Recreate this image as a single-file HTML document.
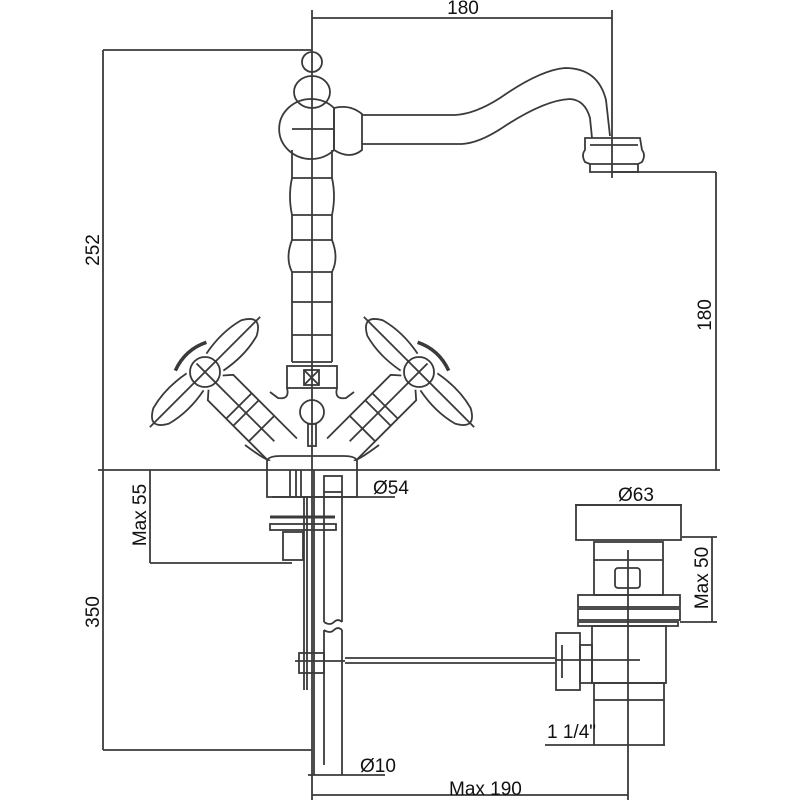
<!DOCTYPE html>
<html><head><style>html,body{margin:0;padding:0;background:#fff}svg{display:block}</style></head><body>
<svg width="800" height="800" viewBox="0 0 800 800" xmlns="http://www.w3.org/2000/svg">
<g fill="none" stroke="#3a3a3a" stroke-width="1.8">
<!-- dimension lines -->
<line x1="312" y1="18" x2="612" y2="18"/>
<line x1="312" y1="10" x2="312" y2="800"/>
<line x1="612" y1="10" x2="612" y2="178"/>
<line x1="103" y1="50" x2="312" y2="50"/>
<line x1="103" y1="50" x2="103" y2="750"/>
<line x1="612" y1="172" x2="716" y2="172"/>
<line x1="716" y1="172" x2="716" y2="470"/>
<line x1="98" y1="470" x2="720" y2="470"/>
<line x1="150" y1="470" x2="150" y2="563"/>
<line x1="150" y1="563" x2="292" y2="563"/>
<line x1="103" y1="750" x2="312" y2="750"/>
<line x1="272" y1="497" x2="395" y2="497"/>
<line x1="575" y1="505" x2="682" y2="505"/>
<line x1="682" y1="537" x2="717" y2="537"/>
<line x1="680" y1="622" x2="717" y2="622"/>
<line x1="712" y1="537" x2="712" y2="622"/>
<line x1="545" y1="745" x2="665" y2="745"/>
<line x1="308" y1="775" x2="385" y2="775"/>
<line x1="628" y1="550" x2="628" y2="800"/>
<line x1="312" y1="795" x2="628" y2="795"/>

<!-- faucet top -->
<circle cx="312" cy="62" r="10"/>
<ellipse cx="312" cy="92" rx="18" ry="16"/>
<path d="M334 108 A32 30 0 1 0 334 150"/>
<path d="M334 108 Q350 104 362 114 L362 150 Q350 160 334 150 Z"/>
<line x1="334" y1="108" x2="334" y2="150"/>
<line x1="292" y1="129" x2="334" y2="129"/>
<!-- spout -->
<path d="M362 115 L455 115 Q475 114 500 98 Q540 70 565 68 Q598 68 606 100 L610 136"/>
<path d="M362 144 L462 144 Q480 143 505 126 Q545 100 570 99 Q585 100 590 118 L592 138"/>
<path d="M585 138 L640 138 L642 150 Q646 155 642 162 L638 164 L638 172 L590 172 L590 164 L585 162 Q581 155 585 150 Z"/>
<line x1="590" y1="145" x2="638" y2="145"/>
<line x1="590" y1="164" x2="638" y2="164"/>
<!-- stem -->
<path d="M292 150 L292 178 Q288 196 292 215 L292 240 Q285 258 292 272 L292 362 M332 150 L332 178 Q336 196 332 215 L332 240 Q339 258 332 272 L332 362"/>
<line x1="292" y1="178" x2="332" y2="178"/><line x1="292" y1="215" x2="332" y2="215"/>
<line x1="292" y1="240" x2="332" y2="240"/><line x1="292" y1="272" x2="332" y2="272"/>
<line x1="292" y1="302" x2="332" y2="302"/><line x1="292" y1="335" x2="332" y2="335"/>
<line x1="292" y1="362" x2="332" y2="362"/>
<rect x="287" y="366" width="50" height="22"/>
<rect x="304" y="370" width="15" height="15"/>
<line x1="304" y1="370" x2="319" y2="385"/><line x1="319" y1="370" x2="304" y2="385"/>
<circle cx="312" cy="412" r="12"/>
<rect x="308" y="424" width="8" height="22"/>
<!-- base body -->
<path d="M287 388 Q290 400 278 398 L270 392 M337 388 Q334 400 346 398 L354 392"/>
<path d="M245 445 Q268 462 270 460 M379 445 Q356 462 354 460"/>
<path d="M267 470 L267 460 Q270 456 280 456 L344 456 Q354 456 357 460 L357 470 L357 497 L267 497 L267 470"/>
<!-- handles -->
<g id="hl" transform="translate(205,372) rotate(45)">
<circle r="15"/>
<path d="M-12 -14 Q-17 -40 -11 -62 Q0 -82 11 -62 Q17 -40 12 -14"/>
<path d="M-12 14 Q-17 40 -11 62 Q0 82 11 62 Q17 40 12 14"/>
<path d="M15 -10 L22 -18 L80 -18 L80 18 L22 18 L15 10"/>
<line x1="48" y1="-18" x2="48" y2="18"/><line x1="58" y1="-18" x2="58" y2="18"/>
<path d="M80 -18 L112 -18 M80 18 L105 18"/>
<line x1="0" y1="-78" x2="0" y2="78"/><line x1="-12" y1="0" x2="98" y2="0"/>
<path d="M-20 -22 Q-30 -2 -22 20" stroke-width="3.5"/>
</g>
<use href="#hl" transform="translate(624,0) scale(-1,1)"/>
<!-- below deck pipes -->
<line x1="290" y1="470" x2="290" y2="497"/><line x1="296" y1="470" x2="296" y2="497"/>
<line x1="301" y1="470" x2="301" y2="497"/>
<rect x="324" y="476" width="18" height="16"/>
<line x1="270" y1="517" x2="335" y2="517" stroke-width="3"/>
<rect x="270" y="524" width="66" height="6"/>
<rect x="283" y="532" width="20" height="28"/>
<line x1="307" y1="497" x2="307" y2="690"/><line x1="304" y1="497" x2="304" y2="690"/>
<line x1="314" y1="470" x2="314" y2="775"/>
<line x1="324" y1="492" x2="324" y2="622"/><line x1="342" y1="492" x2="342" y2="622"/>
<line x1="324" y1="630" x2="324" y2="765"/><line x1="342" y1="630" x2="342" y2="775"/>
<path d="M324 622 Q330 626 334 622 Q338 618 342 622 M324 630 Q330 634 334 630 Q338 626 342 630"/>
<rect x="299" y="653" width="25" height="20"/>
<line x1="345" y1="658" x2="555" y2="658"/><line x1="345" y1="663" x2="555" y2="663"/>
<line x1="295" y1="661" x2="345" y2="661"/>
<!-- waste -->
<rect x="576" y="505" width="105" height="35"/>
<rect x="594" y="542" width="69" height="53"/>
<line x1="594" y1="560" x2="663" y2="560"/>
<rect x="615" y="568" width="25" height="20" rx="3"/>
<rect x="578" y="595" width="102" height="12"/>
<rect x="578" y="609" width="102" height="11"/>
<rect x="578" y="622" width="100" height="4"/>
<rect x="592" y="626" width="74" height="57"/>
<rect x="594" y="683" width="70" height="17"/>
<line x1="594" y1="700" x2="594" y2="745"/><line x1="664" y1="700" x2="664" y2="745"/>
<rect x="556" y="633" width="24" height="57"/>
<rect x="580" y="645" width="12" height="38"/>
<line x1="562" y1="645" x2="562" y2="678"/>
<line x1="555" y1="660" x2="640" y2="660"/>
</g>
<g font-family="Liberation Sans, sans-serif" font-size="19" fill="#111">
<text x="463" y="14" text-anchor="middle">180</text>
<text transform="translate(99,250) rotate(-90)" text-anchor="middle">252</text>
<text transform="translate(711,315) rotate(-90)" text-anchor="middle">180</text>
<text transform="translate(146,515) rotate(-90)" text-anchor="middle">Max 55</text>
<text transform="translate(99,612) rotate(-90)" text-anchor="middle">350</text>
<text transform="translate(708,578) rotate(-90)" text-anchor="middle">Max 50</text>
<text x="373" y="494">Ø54</text>
<text x="618" y="501">Ø63</text>
<text x="547" y="738">1 1/4"</text>
<text x="360" y="772">Ø10</text>
<text x="449" y="795">Max 190</text>
</g>
</svg>
</body></html>
